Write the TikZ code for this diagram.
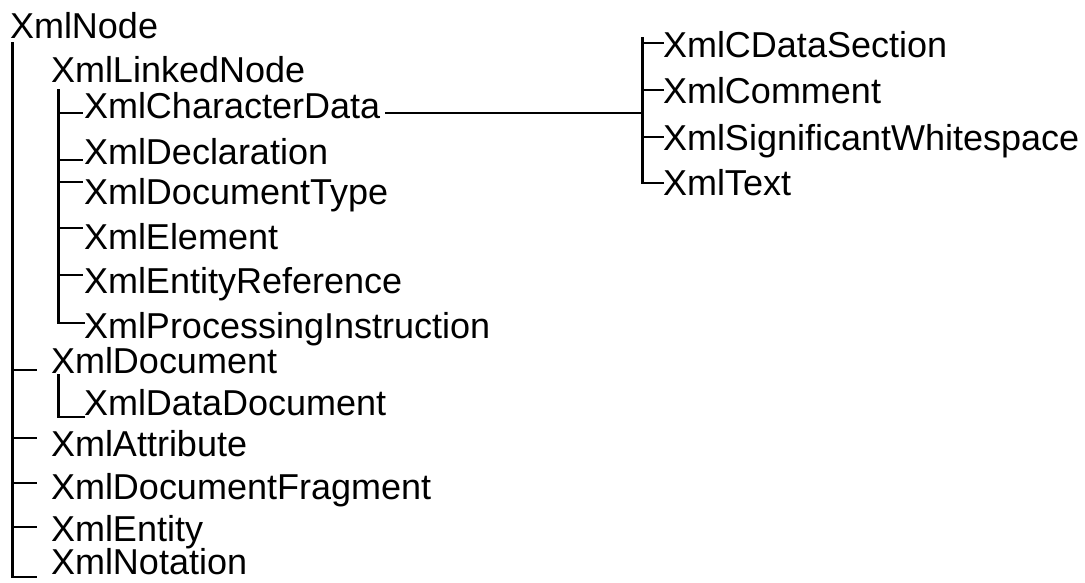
\documentclass[tikz,border=0pt]{standalone}
\usepackage{fontspec}
\setmainfont{Liberation Sans}
\begin{document}
\begin{tikzpicture}[x=1pt,y=-1pt,
  lbl/.style={anchor=base west,inner sep=0pt,outer sep=0pt,font=\fontsize{36}{43}\selectfont},
  tree/.style={line width=2.2pt,line cap=rect,black}]
\useasboundingbox (0,0) rectangle (1085,582);
% labels
\node[lbl] (xmlnode) at (10,38) {XmlNode};
\node[lbl] (linked) at (51,82) {XmlLinkedNode};
\node[lbl] (chardata) at (84,118) {XmlCharacterData};
\node[lbl] (decl) at (84,164) {XmlDeclaration};
\node[lbl] (doctype) at (84,204) {XmlDocumentType};
\node[lbl] (element) at (84,249) {XmlElement};
\node[lbl] (entref) at (84,293) {XmlEntityReference};
\node[lbl] (procins) at (84,338) {XmlProcessingInstruction};
\node[lbl] (document) at (51,373) {XmlDocument};
\node[lbl] (datadoc) at (84,415) {XmlDataDocument};
\node[lbl] (attr) at (51,456) {XmlAttribute};
\node[lbl] (frag) at (51,499) {XmlDocumentFragment};
\node[lbl] (entity) at (51,541) {XmlEntity};
\node[lbl] (notation) at (51,574) {XmlNotation};
\node[lbl] (cdata) at (663,57) {XmlCDataSection};
\node[lbl] (comment) at (663,103) {XmlComment};
\node[lbl] (sigws) at (663,150) {XmlSignificantWhitespace};
\node[lbl] (text) at (663,195) {XmlText};
% trunk under XmlNode
\coordinate (T1top) at (12.5,43);
\coordinate (T1bot) at (12.5,577);
\draw[tree] (T1top) -- (T1bot) -- ++(23.5,0);
\foreach \y in {370,438,483,527}
  \draw[tree] (T1top |- 0,\y) -- ++(23.5,0);
% trunk under XmlLinkedNode
\coordinate (T2top) at (58.5,90);
\coordinate (T2bot) at (58.5,323);
\draw[tree] (T2top) -- (T2bot) -- (T2bot -| procins.west);
\foreach \y in {113,160,182,228,275}
  \draw[tree] (T2top |- 0,\y) -- ++(23.5,0);
% XmlDocument -> XmlDataDocument
\coordinate (T3top) at (58.5,375);
\coordinate (T3bot) at (58.5,417);
\draw[tree] (T3top) -- (T3bot) -- (T3bot -| datadoc.west);
% XmlCharacterData -> right subtree
\coordinate (T4top) at (642.5,38);
\coordinate (T4bot) at (642.5,183);
\draw[tree] ([xshift=6pt,yshift=5pt]chardata.base east) -- (T4top |- 0,113);
\draw[tree] (T4top) -- (T4bot) -- (T4bot -| text.west);
\foreach \y in {43,90,137}
  \draw[tree] (T4top |- 0,\y) -- ++(20.5,0);
\end{tikzpicture}
\end{document}
